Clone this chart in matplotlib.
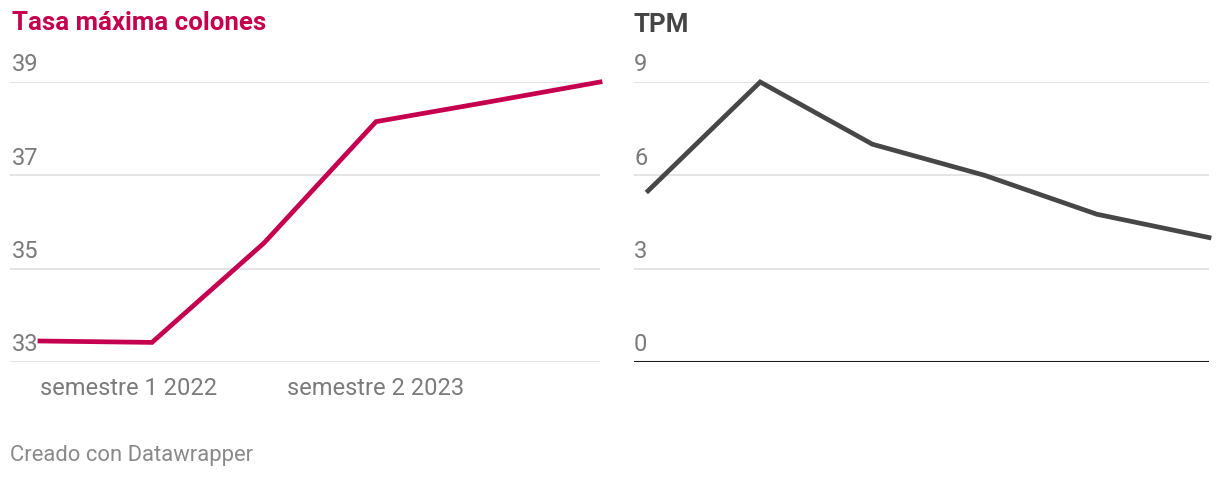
import matplotlib
matplotlib.use("Agg")
import matplotlib.pyplot as plt
from matplotlib.transforms import blended_transform_factory

plt.rcParams['font.family'] = ['Roboto', 'DejaVu Sans']

periods = ["semestre 1 2022", "semestre 2 2022", "semestre 1 2023",
           "semestre 2 2023", "semestre 1 2024", "semestre 2 2024"]
tasa_colones = [33.45, 33.42, 35.55, 38.15, 38.57, 39.0]
tpm = [5.5, 9.0, 7.0, 6.0, 4.75, 4.0]
left_ticks = [33, 35, 37, 39]
right_ticks = [0, 3, 6, 9]
shown_labels = {0: "semestre 1 2022", 3: "semestre 2 2023"}

W, H = 1220, 478
fig = plt.figure(figsize=(W / 100, H / 100), dpi=100)

def px_axes(x0, x1, ytop, ybot):
    return fig.add_axes([x0 / W, 1 - ybot / H, (x1 - x0) / W, (ybot - ytop) / H])

GRID = "#e2e2e2"
TICK = "#7b7b7b"
x = list(range(len(periods)))

# Left panel
axL = px_axes(10, 600, 82, 362)
step = (600 - 40) / 5
axL.set_xlim(-30 / step, 5)
axL.set_ylim(33, 39)
for t in left_ticks:
    axL.axhline(t, color=GRID, lw=1.3, zorder=1)
axL.plot(x, tasa_colones, color="#c4004f", lw=3.4, clip_on=False, zorder=3,
         solid_joinstyle="miter")
trL = blended_transform_factory(axL.transAxes, axL.transData)
for t in left_ticks:
    axL.text(0.003, t + 0.12, str(t), transform=trL, ha="left", va="bottom",
             fontsize=17, color=TICK, zorder=2)
for i, lab in shown_labels.items():
    axL.text(i, 32.43, lab, ha="left" if i == 0 else "center", va="center",
             fontsize=17, color=TICK, clip_on=False)

# Right panel
axR = px_axes(634, 1209, 82, 362)
stepR = (1209 - 648) / 5
axR.set_xlim(-14 / stepR, 5)
axR.set_ylim(0, 9)
for t in right_ticks[1:]:
    axR.axhline(t, color=GRID, lw=1.3, zorder=1)
axR.axhline(0, color="#1a1a1a", lw=2.2, zorder=2)
axR.plot(x, tpm, color="#474747", lw=3.4, clip_on=False, zorder=3,
         solid_joinstyle="miter")
trR = blended_transform_factory(axR.transAxes, axR.transData)
for t in right_ticks:
    axR.text(0.0, t + 0.18, str(t), transform=trR, ha="left", va="bottom",
             fontsize=17, color=TICK, zorder=2)

for ax in (axL, axR):
    ax.axis("off")

fig.text(12 / W, 1 - 23 / H, "Tasa máxima colones", ha="left", va="center",
         fontsize=18.6, fontweight="bold", color="#c4004f")
fig.text(634 / W, 1 - 25 / H, "TPM", ha="left", va="center",
         fontsize=18.6, fontweight="bold", color="#454545")
fig.text(10 / W, 1 - 455 / H, "Creado con Datawrapper", ha="left", va="center",
         fontsize=15.8, color="#8a8a8a")

fig.savefig("out.png", dpi=100, facecolor="white")
